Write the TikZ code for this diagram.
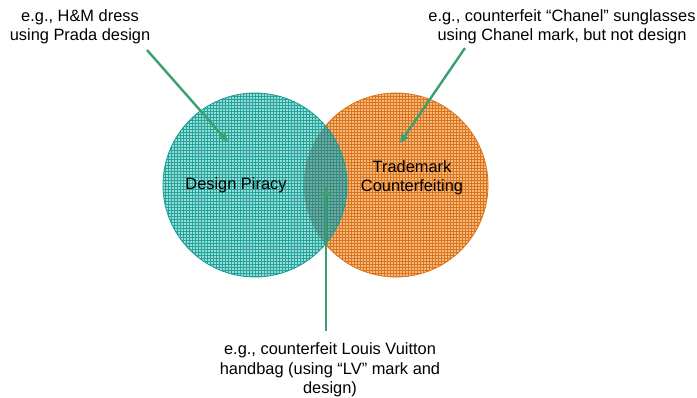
\documentclass[tikz,border=0pt]{standalone}
\usepackage{fontspec}
\setmainfont{Liberation Sans}
\usetikzlibrary{arrows.meta}
\definecolor{tealline}{RGB}{22,158,150}
\definecolor{teallight}{RGB}{132,210,204}
\definecolor{orangeline}{RGB}{222,116,24}
\definecolor{orangelight}{RGB}{244,186,134}
\definecolor{overlapgrey}{RGB}{70,115,105}
\definecolor{arrowgreen}{RGB}{58,160,110}

\begin{document}
\begin{tikzpicture}[x=1pt, y=-1pt, font=\fontsize{16.4}{19.5}\selectfont,
	lbl/.style={align=center, inner sep=0pt},
	pointer/.style={draw=arrowgreen, line width=2.4pt, -{Triangle[length=9pt,width=8pt]}}]
	\useasboundingbox (0,0) rectangle (697,398);
	% trademark circle
	\begin{scope}
		\clip (396,185) circle (92pt);
		\fill[orangelight] (300,90) rectangle (490,280);
		\draw[orangeline, line width=0.5pt, step=3pt] (300,90) grid (490,280);
	\end{scope}
	\draw[orangeline, line width=0.8pt] (396,185) circle (92pt);
	% design piracy circle, on top
	\begin{scope}
		\clip (255,185) circle (92pt);
		\fill[teallight, fill opacity=0.8] (160,90) rectangle (350,280);
		\draw[tealline, line width=0.5pt, draw opacity=0.9, step=3pt] (160,90) grid (350,280);
		% darker lens where both meet
		\clip (396,185) circle (92pt);
		\fill[overlapgrey, fill opacity=0.4] (300,90) rectangle (350,280);
	\end{scope}
	\draw[tealline, line width=0.8pt] (255,185) circle (92pt);
	\node[lbl] (dp) at (236,185) {Design Piracy};
	\node[lbl] (tc) at (412,178) {Trademark\\Counterfeiting};
	\node[lbl] (hm) at (80,27) {e.g., H\&M dress\\using Prada design};
	\node[lbl] (chanel) at (562,27) {e.g., counterfeit “Chanel” sunglasses\\using Chanel mark, but not design};
	\node[lbl] (lv) at (330,370) {e.g., counterfeit Louis Vuitton\\handbag (using “LV” mark and\\design)};
	\coordinate (hmfrom) at (147,50);
	\coordinate (hmto) at (228,142);
	\coordinate (chanelfrom) at (465,48);
	\coordinate (chanelto) at (400,143);
	\coordinate (lvfrom) at (326,331);
	\coordinate (lvto) at (326,187);
	\draw[pointer] (hmfrom) -- (hmto);
	\draw[pointer] (chanelfrom) -- (chanelto);
	\draw[pointer] (lvfrom) -- (lvto);
\end{tikzpicture}
\end{document}
